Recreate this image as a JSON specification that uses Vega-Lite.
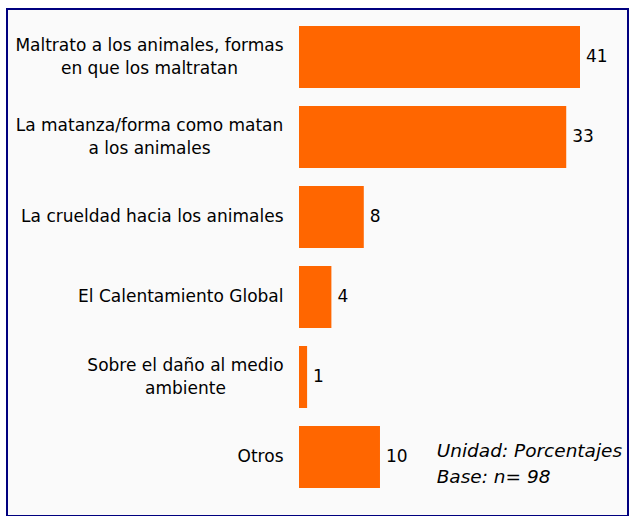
{
  "$schema": "https://vega.github.io/schema/vega-lite/v6.json",
  "width": 621,
  "height": 507,
  "autosize": {"type": "none"},
  "padding": {"left": 7, "top": 9, "right": 11, "bottom": 0},
  "background": "white",
  "config": {
    "view": {"stroke": "#00007f", "strokeWidth": 2, "fill": "#fafafa"},
    "font": "DejaVu Sans"
  },
  "data": {
    "values": [
      {"tema": "Maltrato a los animales, formas|en que los maltratan", "pct": 41},
      {"tema": "La matanza/forma como matan|a los animales", "pct": 33},
      {"tema": "La crueldad hacia los animales", "pct": 8},
      {"tema": "El Calentamiento Global", "pct": 4},
      {"tema": "Sobre el daño al medio|ambiente", "pct": 1},
      {"tema": "Otros", "pct": 10}
    ]
  },
  "encoding": {
    "y": {
      "field": "tema",
      "type": "nominal",
      "sort": null,
      "scale": {"paddingInner": 0.225, "paddingOuter": 0.28125, "align": 0.378},
      "axis": {
        "title": null,
        "offset": -292,
        "domain": false,
        "ticks": false,
        "grid": false,
        "labelFont": "DejaVu Sans",
        "labelFontSize": 17,
        "labelColor": "black",
        "labelLimit": 0,
        "labelLineHeight": 23,
        "labelExpr": "split(datum.label, '|')",
        "labelAlign": {"condition": {"test": "indexof(datum.value, '|') >= 0", "value": "center"}, "value": "right"},
        "labelOffset": {"condition": {"test": "indexof(datum.value, '|') >= 0", "value": -11}, "value": 0},
        "labelPadding": {
          "condition": [
            {"test": "datum.value == 'Maltrato a los animales, formas|en que los maltratan'", "value": 150},
            {"test": "datum.value == 'La matanza/forma como matan|a los animales'", "value": 150},
            {"test": "datum.value == 'Sobre el daño al medio|ambiente'", "value": 114}
          ],
          "value": 16
        }
      }
    },
    "x": {
      "field": "pct",
      "type": "quantitative",
      "scale": {"domain": [0, 34.7], "range": [292, 573], "clamp": true, "nice": false, "zero": true},
      "axis": null
    }
  },
  "layer": [
    {"mark": {"type": "bar", "color": "#FF6600"}},
    {
      "mark": {"type": "text", "align": "left", "baseline": "middle", "dx": 6, "fontSize": 17, "color": "black", "font": "DejaVu Sans"},
      "encoding": {"text": {"field": "pct", "type": "quantitative"}}
    },
    {
      "transform": [{"filter": "datum.tema == 'Otros'"}],
      "mark": {"type": "text", "align": "left", "baseline": "middle", "fontStyle": "italic", "fontSize": 18.5, "lineHeight": 26, "dy": -6, "color": "black", "font": "DejaVu Sans"},
      "encoding": {
        "x": {"datum": 17, "type": "quantitative"},
        "text": {"value": ["Unidad: Porcentajes", "Base: n= 98"]}
      }
    }
  ]
}
